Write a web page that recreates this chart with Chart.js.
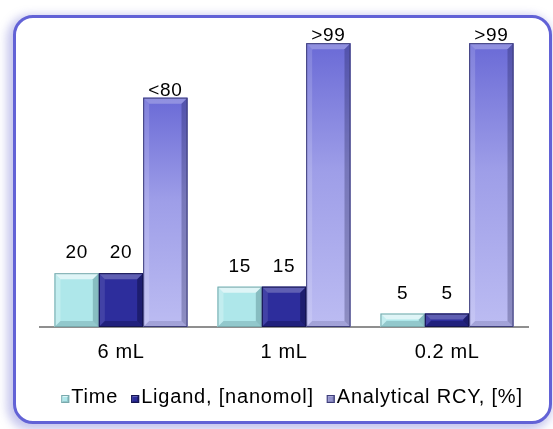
<!DOCTYPE html>
<html>
<head>
<meta charset="utf-8">
<script src="https://cdn.jsdelivr.net/npm/chart.js@4"></script>
<style>
  html, body { margin: 0; padding: 0; background: #ffffff; }
  #wrap { position: relative; width: 553px; height: 429px; overflow: hidden; background: #ffffff; }
  #frame {
    position: absolute; left: 13px; top: 15px; width: 533px; height: 403px;
    border: 3px solid #6262d6; border-radius: 20px; background: #ffffff;
    box-shadow: -3px 3px 10px 3px rgba(110, 110, 210, 0.40);
  }
  canvas { position: absolute; left: 0; top: 0; }
</style>
</head>
<body>
<div id="wrap">
  <div id="frame"></div>
  <canvas id="c" width="553" height="429"></canvas>
</div>
<script>
// Reaction volumes on the category axis
const categories = ['6 mL', '1 mL', '0.2 mL'];
const seriesNames = ['Time', 'Ligand, [nanomol]', 'Analytical RCY, [%]'];

// Series values
const timeValues = [20, 15, 5];
const ligandValues = [20, 15, 5];
const rcyValues = [80, 99, 99];

// Value labels printed above each bar
const timeLabels = ['20', '15', '5'];
const ligandLabels = ['20', '15', '5'];
const rcyLabels = ['<80', '>99', '>99'];

const FONT = '"Liberation Sans", Arial, sans-serif';

// Bevelled-bar look for each series
const barStyles = [
  { face: [[0, '#aee7ea'], [1, '#aee7ea']], top: 'rgba(255,255,255,0.60)', left: 'rgba(255,255,255,0.25)',
    right: 'rgba(0,40,50,0.22)', bottom: 'rgba(0,40,50,0.16)', edge: '#7aa9ac', label: 15 },
  { face: [[0, '#2d2d9c'], [1, '#2d2d9c']], top: 'rgba(255,255,255,0.24)', left: 'rgba(255,255,255,0.10)',
    right: 'rgba(0,0,30,0.35)', bottom: 'rgba(0,0,30,0.25)', edge: '#15154f', label: 15 },
  { face: [[0, '#6a6ad6'], [0.45, '#9e9ee8'], [1, '#bcbcf2']], top: 'rgba(255,255,255,0.25)', left: 'rgba(255,255,255,0.15)',
    right: 'rgba(20,20,70,0.28)', bottom: 'rgba(20,20,70,0.15)', edge: '#3d3d78', label: 2 }
];
const valueLabels = [timeLabels, ligandLabels, rcyLabels];

function poly(ctx, pts, fill) {
  ctx.beginPath();
  ctx.moveTo(pts[0][0], pts[0][1]);
  for (let i = 1; i < pts.length; i++) ctx.lineTo(pts[i][0], pts[i][1]);
  ctx.closePath();
  ctx.fillStyle = fill;
  ctx.fill();
}

function drawBevelBox(ctx, l, t, w, h, st, e) {
  const r = l + w, b = t + h;
  const g = ctx.createLinearGradient(0, t, 0, b);
  st.face.forEach(([o, c]) => g.addColorStop(o, c));
  ctx.fillStyle = g;
  ctx.fillRect(l, t, w, h);
  poly(ctx, [[l, t], [r, t], [r - e, t + e], [l + e, t + e]], st.top);
  poly(ctx, [[l, t], [l + e, t + e], [l + e, b - e], [l, b]], st.left);
  poly(ctx, [[r, t], [r, b], [r - e, b - e], [r - e, t + e]], st.right);
  poly(ctx, [[l, b], [r, b], [r - e, b - e], [l + e, b - e]], st.bottom);
  ctx.strokeStyle = st.edge;
  ctx.lineWidth = 1;
  ctx.strokeRect(l + 0.5, t + 0.5, w - 1, h - 1);
}

const bevelBars = {
  id: 'bevelBars',
  beforeDraw(chart) { chart.ctx.letterSpacing = '0.6px'; },
  afterDatasetsDraw(chart) {
    const ctx = chart.ctx;
    ctx.save();
    chart.data.datasets.forEach((ds, di) => {
      const meta = chart.getDatasetMeta(di);
      const st = barStyles[di];
      meta.data.forEach((bar, i) => {
        const { x, y, base, width } = bar.getProps(['x', 'y', 'base', 'width'], true);
        const h = base - y;
        drawBevelBox(ctx, x - width / 2, y, width, h, st, Math.min(6, h / 2));
        ctx.fillStyle = '#000';
        ctx.font = '19px ' + FONT;
        ctx.letterSpacing = '0.6px';
        ctx.textAlign = 'center';
        ctx.textBaseline = 'alphabetic';
        ctx.fillText(valueLabels[di][i], x, y - st.label);
      });
    });
    ctx.restore();
  }
};

// Key row under the category labels
const keyRow = {
  id: 'keyRow',
  afterDraw(chart) {
    const ctx = chart.ctx;
    ctx.save();
    ctx.font = '20px ' + FONT;
    ctx.letterSpacing = '0.8px';
    const box = 8, gapText = 2, gapItem = 13, centerX = 292, baseY = 403;
    const widths = seriesNames.map(n => ctx.measureText(n).width);
    const total = widths.reduce((a, w) => a + box + gapText + w, 0) + gapItem * (seriesNames.length - 1);
    let x = centerX - total / 2;
    seriesNames.forEach((n, i) => {
      const st = Object.assign({}, barStyles[i]);
      if (i === 2) st.face = [[0, '#8a8ac8'], [1, '#9a9ad0']];
      drawBevelBox(ctx, x, baseY - 8, box, box, st, 2);
      x += box + gapText;
      ctx.fillStyle = '#000';
      ctx.textAlign = 'left';
      ctx.textBaseline = 'alphabetic';
      ctx.fillText(n, x, baseY);
      x += widths[i] + gapItem;
    });
    ctx.restore();
  }
};

new Chart(document.getElementById('c').getContext('2d'), {
  type: 'bar',
  data: {
    labels: categories,
    datasets: [
      { label: seriesNames[0], data: timeValues, yAxisID: 'y', backgroundColor: '#aee7ea' },
      { label: seriesNames[1], data: ligandValues, yAxisID: 'y', backgroundColor: '#2d2d9c' },
      { label: seriesNames[2], data: rcyValues, yAxisID: 'y2', backgroundColor: '#9e9ee8' }
    ]
  },
  options: {
    responsive: false,
    animation: false,
    layout: { padding: { left: 39.5, right: 24.5, top: 30, bottom: 52 } },
    datasets: { bar: { categoryPercentage: 0.816, barPercentage: 1 } },
    plugins: { legend: { display: false }, tooltip: { enabled: false } },
    scales: {
      x: {
        grid: { display: false, drawTicks: false },
        border: { display: true, color: '#8f8f8f', width: 2 },
        ticks: { color: '#000', font: { family: FONT, size: 20 }, padding: 13 }
      },
      y: { display: false, min: 0, max: 110.4 },
      y2: { display: false, min: 0, max: 103.6 }
    }
  },
  plugins: [bevelBars, keyRow]
});
</script>
</body>
</html>
